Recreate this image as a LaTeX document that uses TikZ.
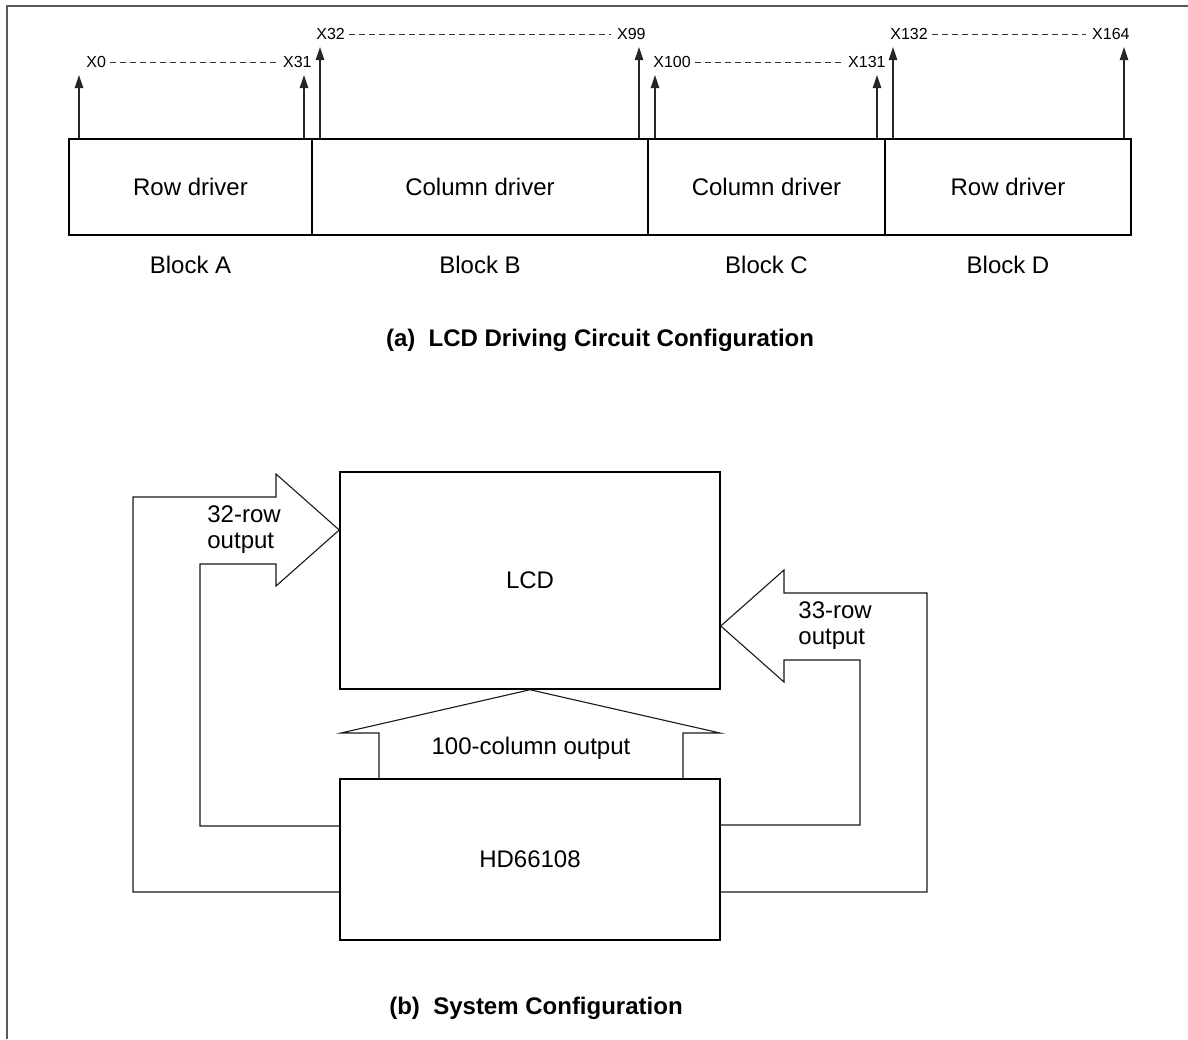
\documentclass[tikz,border=0pt]{standalone}
\usepackage{fontspec}
\setmainfont{Liberation Sans}
\usetikzlibrary{arrows.meta, positioning}
\tikzset{
    blockBox/.style={draw, line width=0.75pt, minimum height=48pt, inner sep=0pt,
        font=\fontsize{12}{13}\selectfont},
    chipBox/.style={draw, line width=0.75pt, minimum width=190pt, inner sep=0pt,
        font=\fontsize{12}{13}\selectfont},
    sigArrow/.style={-{Triangle[length=6.5pt, width=4.2pt]}, line width=0.55pt, draw=black!85},
    tagLbl/.style={inner sep=0pt, font=\fontsize{8}{9}\selectfont},
    tagDash/.style={draw=black!80, line width=0.45pt, dash pattern=on 3pt off 2pt,
        shorten <=2pt, shorten >=3pt},
    txtLbl/.style={inner sep=0pt, font=\fontsize{12}{13}\selectfont},
    capLbl/.style={inner sep=0pt, font=\bfseries\fontsize{12}{13}\selectfont},
    busArrow/.style={draw=black!90, line width=0.55pt, line join=miter},
    frameLine/.style={draw=black!65, line width=0.8pt}
}
\begin{document}
\begin{tikzpicture}[x=0.5pt, y=-0.5pt]
    \useasboundingbox (0,0) rectangle (1188,1039);
    \draw[frameLine] (7,1039) -- (7,6) -- (1188,6);
    % (a) driving circuit
    \node[blockBox, minimum width=121.5pt] (blkA) at (190.5,187) {Row driver};
    \node[blockBox, minimum width=168pt] (blkB) at (480,187) {Column driver};
    \node[blockBox, minimum width=118.5pt] (blkC) at (766.5,187) {Column driver};
    \node[blockBox, minimum width=123pt] (blkD) at (1008,187) {Row driver};
    \foreach \b/\t in {A/Block A, B/Block B, C/Block C, D/Block D}
        \node[txtLbl, below=10pt of blk\b] (name\b) {\t};
    \foreach \x/\y [count=\i] in {79/75, 304/75, 320/47, 639/47, 655/75, 877/75, 893/47, 1124/47}{
        \coordinate (tip\i) at (\x,\y);
        \draw[sigArrow] (tip\i |- blkA.north) -- (tip\i);
    }
    \foreach \nm/\x/\y/\anc/\txt in {x0/86/62/west/X0, x31/312/62/east/X31,
        x32/316/34/west/X32, x99/646/34/east/X99, x100/653/62/west/X100,
        x131/886/62/east/X131, x132/890/34/west/X132, x164/1130/34/east/X164}
        \node[tagLbl, anchor=\anc] (l\nm) at (\x,\y) {\txt};
    \draw[tagDash] (lx0.east) -- (lx31.west);
    \draw[tagDash] (lx32.east) -- (lx99.west);
    \draw[tagDash] (lx100.east) -- (lx131.west);
    \draw[tagDash] (lx132.east) -- (lx164.west);
    \node[capLbl] (capA) at (600,340) {(a)~~LCD Driving Circuit Configuration};
    % (b) system
    \node[chipBox, minimum height=108.5pt] (lcd) at (530,580.5) {LCD};
    \node[chipBox, minimum height=80.5pt] (hd) at (530,859.5) {HD66108};
    \draw[busArrow] (hd.west |- 0,892) -- (133,892) -- (133,497) -- (276,497) -- (276,474)
        -- (lcd.west |- 0,530) -- (276,586) -- (276,564) -- (200,564) -- (200,826)
        -- (hd.west |- 0,826);
    \draw[busArrow] (hd.east |- 0,892) -- (927,892) -- (927,593) -- (784,593) -- (784,570)
        -- (lcd.east |- 0,626) -- (784,682) -- (784,660) -- (860,660) -- (860,825)
        -- (hd.east |- 0,825);
    \draw[busArrow] (hd.north -| 379,0) -- (379,733) -- (341,733) -- (lcd.south)
        -- (720,733) -- (683,733) -- (hd.north -| 683,0);
    \node[txtLbl, align=left, anchor=west] (rowL) at (207,530) {32-row\\output};
    \node[txtLbl, align=left, anchor=west] (rowR) at (798,626) {33-row\\output};
    \node[txtLbl] (colL) at (531,748) {100-column output};
    \node[capLbl] (capB) at (536,1008) {(b)~~System Configuration};
\end{tikzpicture}
\end{document}
